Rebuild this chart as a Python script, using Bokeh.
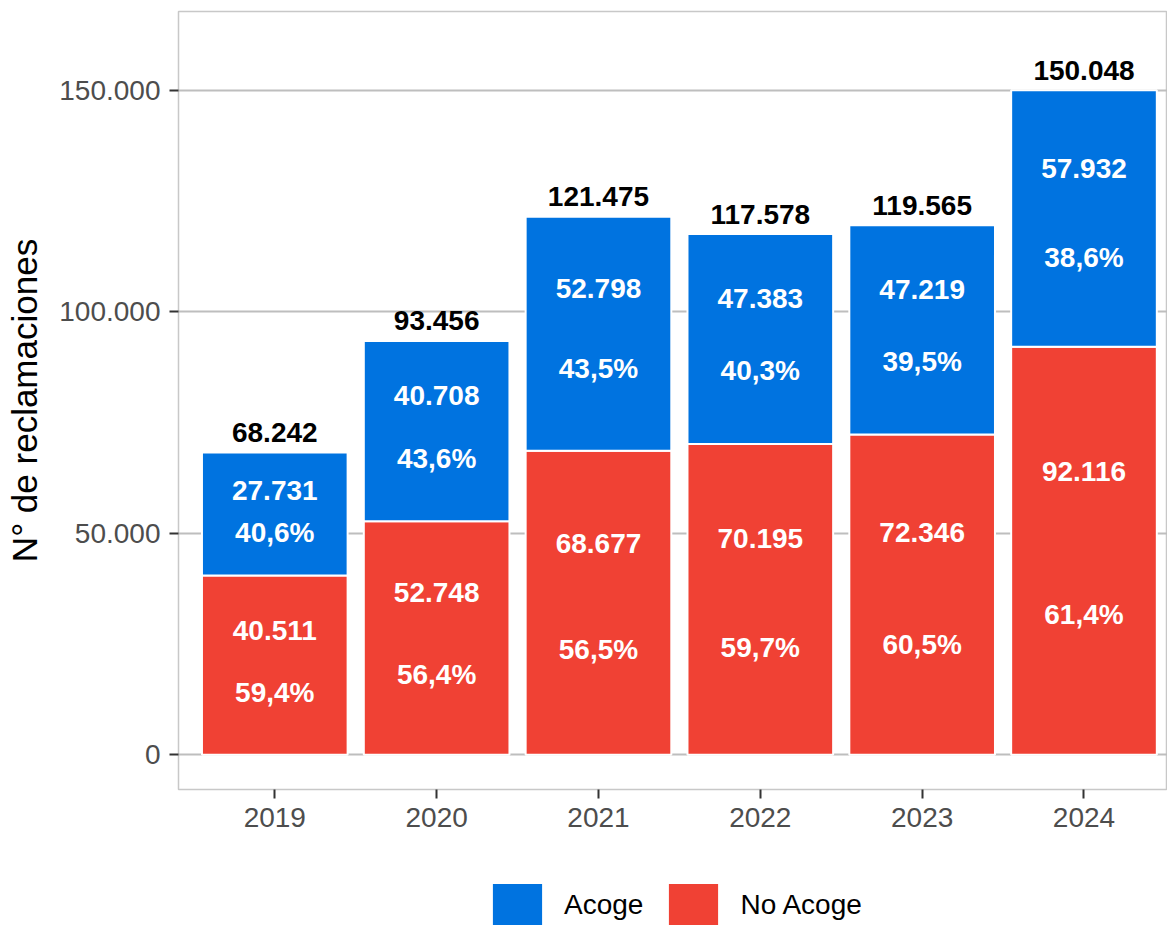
from bokeh.plotting import figure
from bokeh.layouts import column
from bokeh.models import Range1d, FixedTicker, Legend, LegendItem, ColumnDataSource
from bokeh.embed import file_html
from bokeh.resources import INLINE
from bokeh.core.properties import value

# ---- data ----
years = ["2019", "2020", "2021", "2022", "2023", "2024"]
acoge = [27731, 40708, 52798, 47383, 47219, 57932]
no_acoge = [40511, 52748, 68677, 70195, 72346, 92116]
pct_acoge = ["40,6%", "43,6%", "43,5%", "40,3%", "39,5%", "38,6%"]
pct_no_acoge = ["59,4%", "56,4%", "56,5%", "59,7%", "60,5%", "61,4%"]
y_ticks = [0, 50000, 100000, 150000]
y_tick_labels = ["0", "50.000", "100.000", "150.000"]
series_names = ["Acoge", "No Acoge"]

BLUE = "#0073E0"
RED = "#F04134"
FONT = "Liberation Sans"


def fmt(n):
    return f"{n:,}".replace(",", ".")


xs = list(range(1, len(years) + 1))
total = [a + b for a, b in zip(acoge, no_acoge)]

src_no = ColumnDataSource(dict(
    x=xs, bottom=[0] * len(xs), top=no_acoge,
    ynum=[v * 0.695 for v in no_acoge],
    ypct=[v * 0.345 for v in no_acoge],
    num=[fmt(v) for v in no_acoge], pct=pct_no_acoge,
))
src_ac = ColumnDataSource(dict(
    x=xs, bottom=no_acoge, top=total,
    ynum=[b + a * 0.695 for a, b in zip(acoge, no_acoge)],
    ypct=[b + a * 0.35 for a, b in zip(acoge, no_acoge)],
    num=[fmt(v) for v in acoge], pct=pct_acoge,
))
src_tot = ColumnDataSource(dict(x=xs, y=total, lab=[fmt(v) for v in total]))

p = figure(width=1167, height=850, output_backend="svg", toolbar_location=None,
           x_range=Range1d(0.405, 6.516), y_range=Range1d(-7835, 167838),
           min_border_left=178, min_border_right=0, min_border_top=11,
           min_border_bottom=61)
p.background_fill_color = "white"
p.border_fill_color = "white"
p.outline_line_color = "#C8C8C8"
p.outline_line_width = 1.5

red_r = p.vbar(x="x", bottom="bottom", top="top", width=0.9, source=src_no,
               fill_color=RED, line_color="white", line_width=2)
blue_r = p.vbar(x="x", bottom="bottom", top="top", width=0.9, source=src_ac,
                fill_color=BLUE, line_color="white", line_width=2)

for src in (src_no, src_ac):
    for col_y, col_t in (("ynum", "num"), ("ypct", "pct")):
        p.text(x="x", y=col_y, text=col_t, source=src,
               text_font=value(FONT), text_font_style="bold",
               text_font_size="28px", text_color="white",
               text_align="center", text_baseline="middle")

p.text(x="x", y="y", text="lab", source=src_tot, y_offset=-20,
       text_font=value(FONT), text_font_style="bold", text_font_size="28px",
       text_color="black", text_align="center", text_baseline="middle")

# axes
p.xaxis.ticker = FixedTicker(ticks=xs)
p.xaxis.major_label_overrides = {x: y for x, y in zip(xs, years)}
p.yaxis.ticker = FixedTicker(ticks=y_ticks)
p.yaxis.major_label_overrides = {t: l for t, l in zip(y_ticks, y_tick_labels)}
p.yaxis.axis_label = "N° de reclamaciones"
for ax in (p.xaxis, p.yaxis):
    ax.axis_line_color = None
    ax.major_tick_in = 0
    ax.major_tick_out = 9
    ax.major_tick_line_color = "#333333"
    ax.major_tick_line_width = 2
    ax.minor_tick_line_color = None
    ax.major_label_text_font = FONT
    ax.major_label_text_font_size = "28px"
    ax.major_label_text_color = "#4D4D4D"
p.yaxis.major_label_standoff = 9
p.xaxis.major_label_standoff = 9
p.yaxis.axis_label_text_font = FONT
p.yaxis.axis_label_text_font_size = "35px"
p.yaxis.axis_label_text_font_style = "normal"
p.yaxis.axis_label_text_color = "black"
p.yaxis.axis_label_standoff = 12

p.xgrid.visible = False
p.ygrid.grid_line_color = "#BEBEBE"
p.ygrid.grid_line_width = 2

# ---- legend strip (separate figure below the chart) ----
pl = figure(width=1167, height=75, output_backend="svg", toolbar_location=None,
            x_axis_type=None, y_axis_type=None, min_border=0,
            x_range=Range1d(0, 1), y_range=Range1d(0, 1))
pl.outline_line_color = None
pl.background_fill_color = "white"
pl.border_fill_color = "white"
# legend-key swatches only (kept outside the visible range of this strip)
leg_blue = pl.vbar(x=[-5], bottom=[0], top=[0], width=0.9, fill_color=BLUE,
                   line_color="white", line_width=2)
leg_red = pl.vbar(x=[-5], bottom=[0], top=[0], width=0.9, fill_color=RED,
                  line_color="white", line_width=2)

legend = Legend(items=[LegendItem(label=series_names[0], renderers=[leg_blue]),
                       LegendItem(label=series_names[1], renderers=[leg_red])],
                location=(307, -8), orientation="horizontal",
                glyph_width=64, glyph_height=56, label_standoff=15, spacing=18,
                padding=0, margin=0, border_line_color=None,
                background_fill_alpha=0,
                label_text_font=FONT, label_text_font_size="28px",
                label_text_color="black")
pl.add_layout(legend)

open("out.html", "w").write(file_html(column(p, pl, spacing=0), INLINE))
